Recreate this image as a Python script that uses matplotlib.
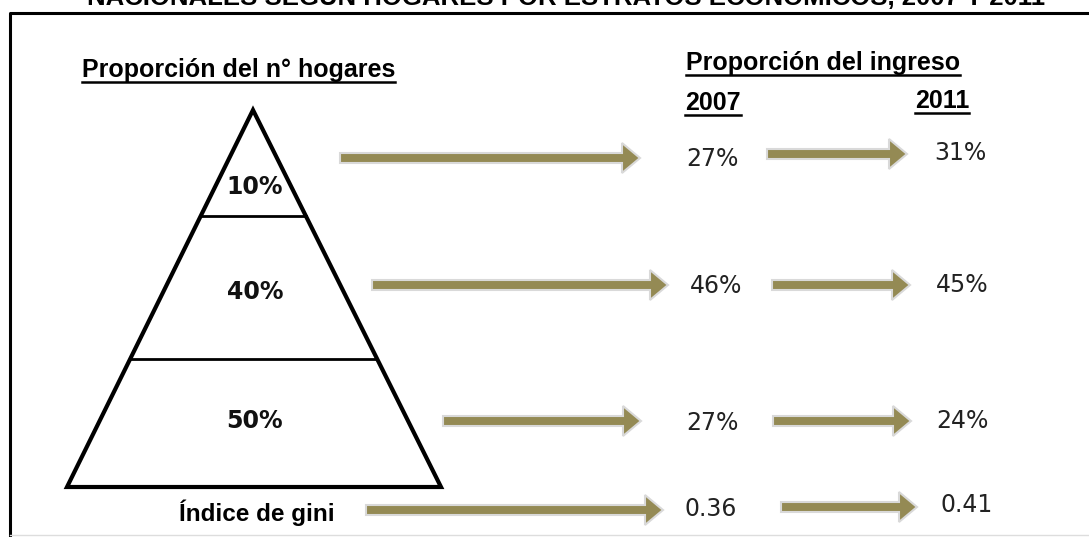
import matplotlib
matplotlib.use("Agg")
import matplotlib.pyplot as plt
import matplotlib.patches as mpatches

# datos
estratos = ["10%", "40%", "50%"]
ingreso_2007 = ["27%", "46%", "27%"]
ingreso_2011 = ["31%", "45%", "24%"]
gini = ["0.36", "0.41"]
anios = ["2007", "2011"]

titulo = "NACIONALES SEGÚN HOGARES POR ESTRATOS ECONÓMICOS, 2007 Y 2011"
oliva = "#948A54"

fig = plt.figure(figsize=(10.89, 5.37), dpi=100)
ax = fig.add_axes([0, 0, 1, 1])
ax.set_xlim(0, 1089)
ax.set_ylim(537, 0)
ax.axis("off")

# titulo cortado arriba (como en la imagen original)
ax.text(566, 5, titulo, ha="center", va="baseline", fontsize=18.5,
        fontweight="bold", family="Liberation Sans", clip_on=False)

# marco
ax.plot([10, 10, 1089], [537, 13, 13], color="black", lw=2.2)
ax.plot([10, 1089], [535, 535], color="#dddddd", lw=1)

# piramide
apice = (253, 110)
base_y = 487
izq, der = 67, 441
ax.add_patch(mpatches.Polygon([apice, (izq, base_y), (der, base_y)], closed=True,
                              fill=False, edgecolor="black", lw=3, joinstyle="miter"))


def borde_x(y):
    t = (y - apice[1]) / (base_y - apice[1])
    return apice[0] + (izq - apice[0]) * t, apice[0] + (der - apice[0]) * t


for y in [216, 359]:
    x0, x1 = borde_x(y)
    ax.plot([x0, x1], [y, y], color="black", lw=2)

for lab, y in zip(estratos, [187, 292, 421]):
    ax.text(255, y, lab, ha="center", va="center", fontsize=17, fontweight="bold",
            family="DejaVu Sans", color="#111111")

ax.text(257, 513, "Índice de gini", ha="center", va="center", fontsize=17.5,
        fontweight="bold", family="Liberation Sans")


# encabezados subrayados
def subrayado(x, y, s, size):
    t = ax.text(x, y, s, ha="left", va="baseline", fontsize=size,
                fontweight="bold", family="Liberation Sans")
    fig.canvas.draw()
    bb = t.get_window_extent().transformed(ax.transData.inverted())
    ax.plot([bb.x0, bb.x1], [y + 5, y + 5], color="black", lw=1.8)


subrayado(82, 77, "Proporción del n° hogares", 18)
subrayado(686, 70, "Proporción del ingreso", 18)
subrayado(685, 110, anios[0], 18)
subrayado(915, 108, anios[1], 18)


# flechas
def flecha(x0, x1, y):
    ax.add_patch(mpatches.FancyArrow(x0, y, x1 - x0, 0, width=10, head_width=30,
                                     head_length=18, length_includes_head=True,
                                     facecolor=oliva, edgecolor="#d9d9d9", lw=1.5))


filas_y = [158, 285, 421, 510]
flechas_1 = [(340, 640), (372, 668), (443, 641), (366, 663)]
flechas_2 = [(767, 907), (772, 910), (773, 911), (781, 917)]
for (a, b), y in zip(flechas_1, filas_y):
    flecha(a, b, y)
for (a, b), y in zip(flechas_2, [154, 285, 421, 507]):
    flecha(a, b, y)

valores_2007 = ingreso_2007 + [gini[0]]
valores_2011 = ingreso_2011 + [gini[1]]
for s, (x, y) in zip(valores_2007, [(712, 159), (716, 286), (712, 423), (711, 509)]):
    ax.text(x, y, s, ha="center", va="center", fontsize=17, family="DejaVu Sans",
            color="#222222")
for s, (x, y) in zip(valores_2011, [(960, 153), (962, 285), (962, 421), (967, 505)]):
    ax.text(x, y, s, ha="center", va="center", fontsize=17, family="DejaVu Sans",
            color="#222222")

fig.savefig("out.png", dpi=100)
